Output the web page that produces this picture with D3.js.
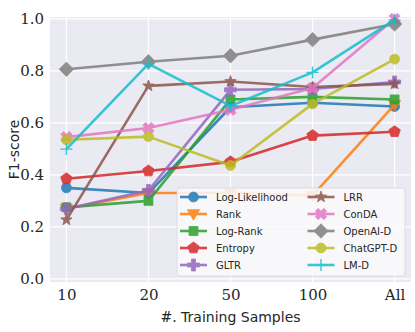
<!DOCTYPE html>
<meta charset="utf-8">
<style>
body { margin: 0; background: #fff; }
svg text { fill: #262626; }
.tick text { font-family: "DejaVu Serif", serif; font-size: 15px; }
</style>
<body>
<svg id="chart" width="415" height="332"></svg>
<script src="https://cdn.jsdelivr.net/npm/d3@7"></script>
<script>
var categories = ["10", "20", "50", "100", "All"];
var yTicks = [0.0, 0.2, 0.4, 0.6, 0.8, 1.0];

var logLikelihood = [0.35, 0.33, 0.66, 0.677, 0.663];
var rank = [0.27, 0.33, 0.33, 0.32, 0.67];
var logRank = [0.275, 0.30, 0.69, 0.70, 0.69];
var entropy = [0.385, 0.415, 0.45, 0.551, 0.566];
var gltr = [0.27, 0.34, 0.727, 0.73, 0.757];
var lrr = [0.227, 0.742, 0.759, 0.738, 0.75];
var conda = [0.545, 0.58, 0.65, 0.734, 1.0];
var openaiD = [0.806, 0.835, 0.858, 0.92, 0.98];
var chatgptD = [0.535, 0.547, 0.436, 0.673, 0.845];
var lmD = [0.499, 0.827, 0.665, 0.794, 0.996];

var seriesList = [
  {name: "Log-Likelihood", values: logLikelihood, color: "#1f77b4", marker: "circle"},
  {name: "Rank", values: rank, color: "#ff7f0e", marker: "triDown"},
  {name: "Log-Rank", values: logRank, color: "#2ca02c", marker: "square"},
  {name: "Entropy", values: entropy, color: "#d62728", marker: "pentagon"},
  {name: "GLTR", values: gltr, color: "#9467bd", marker: "plusFilled"},
  {name: "LRR", values: lrr, color: "#8c564b", marker: "star"},
  {name: "ConDA", values: conda, color: "#e377c2", marker: "xFilled"},
  {name: "OpenAI-D", values: openaiD, color: "#7f7f7f", marker: "diamond"},
  {name: "ChatGPT-D", values: chatgptD, color: "#bcbd22", marker: "circle"},
  {name: "LM-D", values: lmD, color: "#17becf", marker: "plusThin"}
];

var svg = d3.select("#chart");
var plotL = 50, plotR = 411, plotT = 17, plotB = 282;

var x = d3.scalePoint().domain(categories).range([plotL, plotR]).padding(0.2);
var y = d3.scaleLinear().domain([-0.012, 1.007]).range([plotB, plotT]);

// background
svg.append("rect").attr("x", plotL).attr("y", plotT)
  .attr("width", plotR - plotL).attr("height", plotB - plotT)
  .attr("fill", "#EAEAF2");

// grid
svg.append("g").selectAll("line").data(yTicks).enter().append("line")
  .attr("x1", plotL).attr("x2", plotR)
  .attr("y1", d => y(d)).attr("y2", d => y(d))
  .attr("stroke", "#fff").attr("stroke-width", 1.2);
svg.append("g").selectAll("line").data(categories).enter().append("line")
  .attr("y1", plotT).attr("y2", plotB)
  .attr("x1", d => x(d)).attr("x2", d => x(d))
  .attr("stroke", "#fff").attr("stroke-width", 1.2);

// axes
var xAxis = svg.append("g").attr("transform", "translate(0," + plotB + ")")
  .call(d3.axisBottom(x).tickSize(0).tickPadding(7));
xAxis.select(".domain").remove();
var yAxis = svg.append("g").attr("transform", "translate(" + plotL + ",0)")
  .call(d3.axisLeft(y).tickValues(yTicks).tickFormat(d3.format(".1f")).tickSize(0).tickPadding(6));
yAxis.select(".domain").remove();
svg.selectAll(".tick text").attr("fill", "#262626");

// axis titles
svg.append("text").attr("transform", "translate(15," + ((plotT + plotB) / 2) + ") rotate(-90)")
  .attr("text-anchor", "middle").attr("dominant-baseline", "middle")
  .style("font-family", "DejaVu Sans, sans-serif").style("font-size", "14px")
  .text("F1-score");
var xl = svg.append("text").attr("x", (plotL + plotR) / 2).attr("y", 322)
  .attr("text-anchor", "middle")
  .style("font-size", "14px");
xl.append("tspan").style("font-family", "DejaVu Serif, serif").style("font-style", "italic").text("#.");
xl.append("tspan").style("font-family", "DejaVu Sans, sans-serif").text(" Training Samples");

function markerPath(type, s) {
  if (type === "circle") return d3.symbol(d3.symbolCircle, s * s * 0.78)();
  if (type === "square") return d3.symbol(d3.symbolSquare, s * s * 0.8)();
  if (type === "diamond") {
    var r = s * 0.72;
    return "M0," + (-r) + "L" + r + ",0L0," + r + "L" + (-r) + ",0Z";
  }
  if (type === "triDown") {
    var r2 = s * 0.62;
    return "M" + (-r2) + "," + (-r2 * 0.7) + "L" + r2 + "," + (-r2 * 0.7) + "L0," + (r2 * 1.0) + "Z";
  }
  if (type === "pentagon" || type === "star") {
    var n = type === "star" ? 10 : 5, pts = [];
    for (var i = 0; i < n; i++) {
      var a = -Math.PI / 2 + i * 2 * Math.PI / n;
      var rr = s * 0.6;
      if (type === "star" && i % 2 === 1) rr = s * 0.25;
      pts.push([rr * Math.cos(a), rr * Math.sin(a)]);
    }
    return "M" + pts.map(q => q.join(",")).join("L") + "Z";
  }
  if (type === "plusFilled" || type === "xFilled") {
    var a1 = s * 0.6, b1 = s * 0.2;
    var c = [[-b1,-a1],[b1,-a1],[b1,-b1],[a1,-b1],[a1,b1],[b1,b1],[b1,a1],[-b1,a1],[-b1,b1],[-a1,b1],[-a1,-b1],[-b1,-b1]];
    if (type === "xFilled") {
      var cs = Math.SQRT1_2;
      c = c.map(q => [q[0] * cs - q[1] * cs, q[0] * cs + q[1] * cs]);
    }
    return "M" + c.map(q => q.join(",")).join("L") + "Z";
  }
  if (type === "plusThin") {
    var h = s * 0.6;
    return "M" + (-h) + ",0L" + h + ",0M0," + (-h) + "L0," + h;
  }
  return "";
}

var line = d3.line().x((d, i) => x(categories[i])).y(d => y(d));
var ms = 10;

seriesList.forEach(function(s) {
  var g = svg.append("g").attr("opacity", 0.85);
  g.append("path").datum(s.values).attr("d", line)
    .attr("fill", "none").attr("stroke", s.color).attr("stroke-width", 2.6)
    .attr("stroke-linejoin", "round");
  g.selectAll("path.m").data(s.values).enter().append("path").attr("class", "m")
    .attr("transform", (d, i) => "translate(" + x(categories[i]) + "," + y(d) + ")")
    .attr("d", markerPath(s.marker, ms))
    .attr("fill", s.marker === "plusThin" ? "none" : s.color)
    .attr("stroke", s.color).attr("stroke-width", s.marker === "plusThin" ? 1.4 : 0.8);
});

// legend
var lg = svg.append("g");
lg.append("rect").attr("x", 177).attr("y", 188).attr("width", 228).attr("height", 88)
  .attr("rx", 3).attr("fill", "#fafafc").attr("fill-opacity", 0.85)
  .attr("stroke", "#d6d6dc").attr("stroke-width", 0.8);
seriesList.forEach(function(s, i) {
  var col = Math.floor(i / 5), row = i % 5;
  var lx = col === 0 ? 180 : 307.5;
  var ly = 197 + row * 17;
  var e = lg.append("g").attr("opacity", 0.85);
  e.append("line").attr("x1", lx).attr("x2", lx + 27).attr("y1", ly).attr("y2", ly)
    .attr("stroke", s.color).attr("stroke-width", 2.6);
  e.append("path").attr("transform", "translate(" + (lx + 13.5) + "," + ly + ")")
    .attr("d", markerPath(s.marker, ms))
    .attr("fill", s.marker === "plusThin" ? "none" : s.color)
    .attr("stroke", s.color).attr("stroke-width", s.marker === "plusThin" ? 1.4 : 0.8);
  lg.append("text").attr("x", lx + 36).attr("y", ly).attr("dominant-baseline", "central")
    .style("font-family", "DejaVu Sans, sans-serif").style("font-size", "10px")
    .text(s.name);
});
</script>
</body>
